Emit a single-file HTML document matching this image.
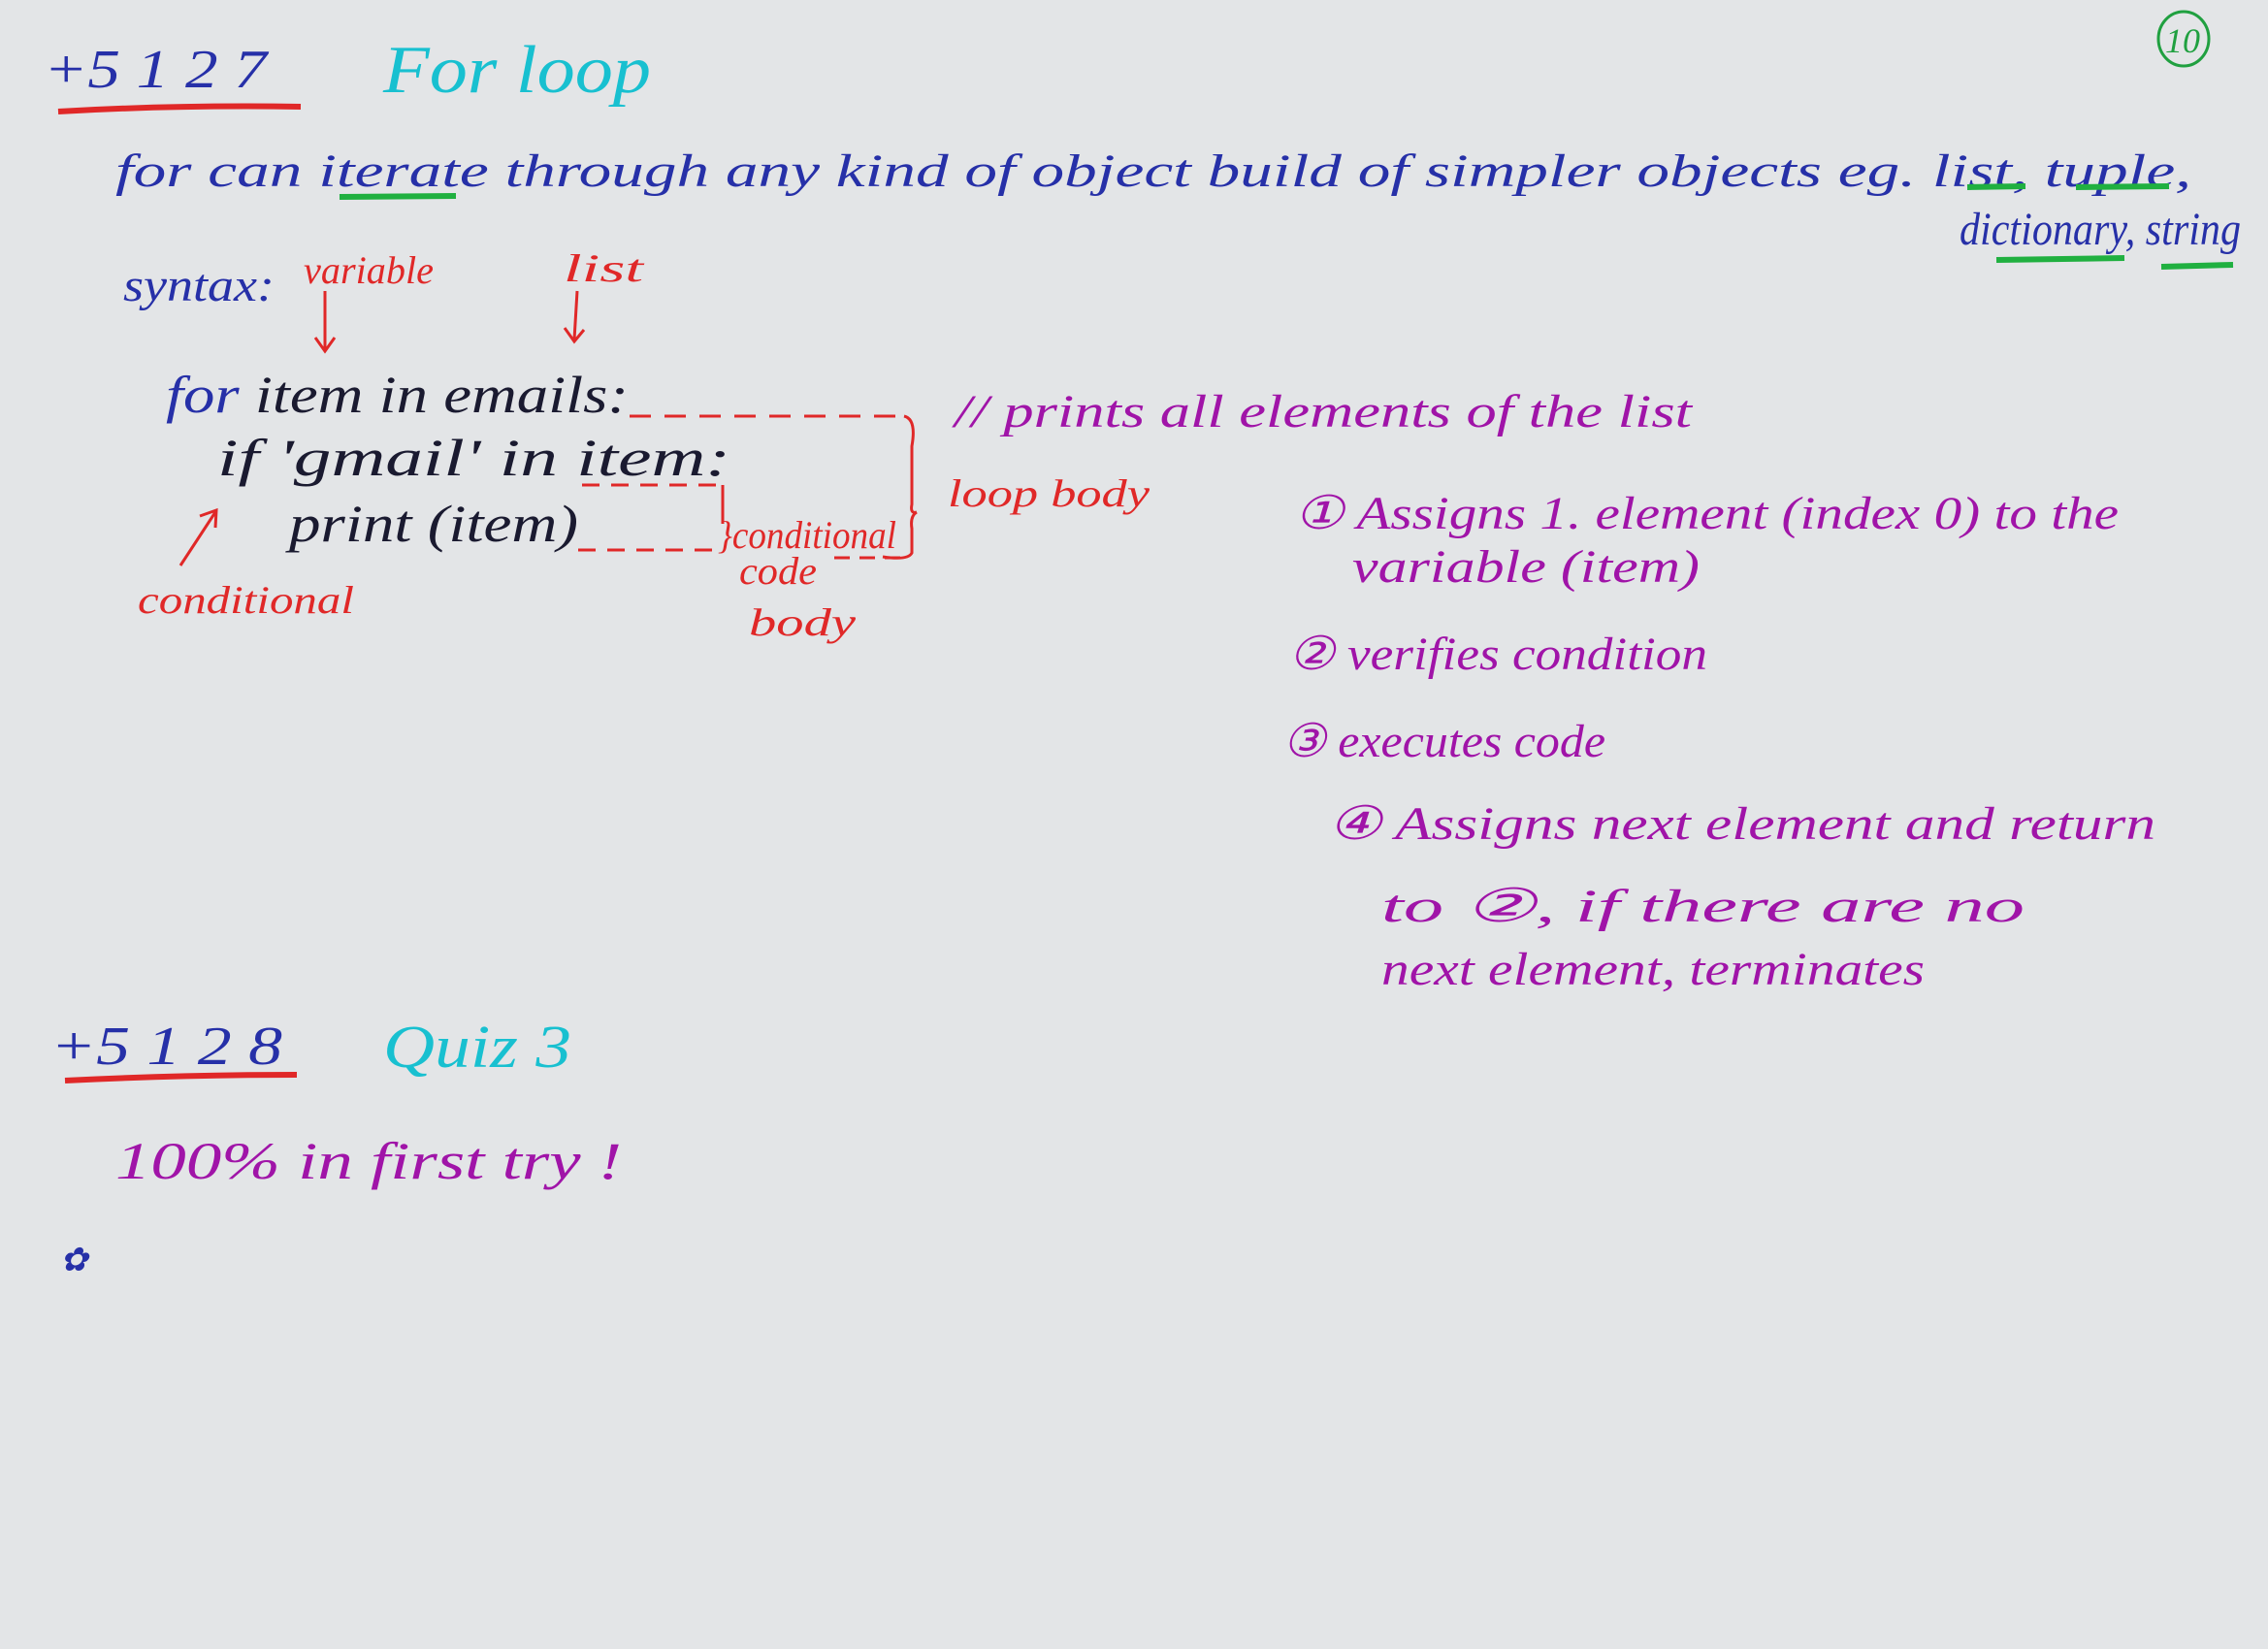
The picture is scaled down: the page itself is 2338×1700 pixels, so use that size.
<!DOCTYPE html>
<html><head><meta charset="utf-8"><style>
html,body{margin:0;padding:0;background:#e3e5e7;}
svg{display:block}
text{font-family:"Liberation Serif",serif;font-style:italic}
</style></head><body>
<svg width="2338" height="1700" viewBox="0 0 2338 1700" xmlns="http://www.w3.org/2000/svg">
<rect width="2338" height="1700" fill="#e3e5e7"/>
<g font-size="56">
<text x="45" y="90" fill="#2630a8" textLength="230" lengthAdjust="spacingAndGlyphs">+5 1 2 7</text>
<text x="395" y="95" fill="#18c0d0" font-size="70" textLength="276" lengthAdjust="spacingAndGlyphs">For loop</text>
</g>
<path d="M60 115 Q180 108 310 110" stroke="#e02828" stroke-width="6" fill="none"/>
<ellipse cx="2251" cy="40" rx="26" ry="28" stroke="#20a040" stroke-width="3" fill="none"/>
<text x="2232" y="54" fill="#20a040" font-size="36">10</text>
<g fill="#2630a8" font-size="48">
<text x="119" y="192" textLength="2140" lengthAdjust="spacingAndGlyphs">for can iterate through any kind of object build of simpler objects eg. list, tuple,</text>
<text x="2020" y="252" textLength="290" lengthAdjust="spacingAndGlyphs">dictionary, string</text>
<text x="127" y="310" textLength="156" lengthAdjust="spacingAndGlyphs">syntax:</text>
<text x="62" y="1310" font-size="34">✿</text>
</g>
<g stroke="#20b040" stroke-width="6" fill="none">
<path d="M350 203 L470 202"/><path d="M2028 193 L2088 192"/><path d="M2140 193 L2236 192"/>
<path d="M2058 268 L2190 266"/><path d="M2228 275 L2302 273"/>
</g>
<g fill="#e02828" font-size="40">
<text x="313" y="292" textLength="134" lengthAdjust="spacingAndGlyphs">variable</text>
<text x="581" y="290" textLength="82" lengthAdjust="spacingAndGlyphs">list</text>
<text x="142" y="632" textLength="223" lengthAdjust="spacingAndGlyphs">conditional</text>
<text x="740" y="565" textLength="184" lengthAdjust="spacingAndGlyphs">}conditional</text>
<text x="762" y="602" textLength="80" lengthAdjust="spacingAndGlyphs">code</text>
<text x="772" y="655" textLength="110" lengthAdjust="spacingAndGlyphs">body</text>
<text x="977" y="522" textLength="208" lengthAdjust="spacingAndGlyphs">loop body</text>
</g>
<g stroke="#e02828" stroke-width="3" fill="none">
<path d="M335 300 L335 360 M325 348 L335 362 L345 348"/>
<path d="M595 300 L592 350 M582 338 L592 352 L602 340"/>
<path d="M186 583 L222 528 M206 532 L223 526 L222 544"/>
<path d="M649 429 L932 429" stroke-dasharray="22 14"/>
<path d="M932 429 Q945 432 940 460 L940 520 Q938 530 945 528 M945 528 Q938 532 940 545 L940 570 Q936 578 910 574"/>
<path d="M600 500 L745 500" stroke-dasharray="18 12"/>
<path d="M745 500 L745 540"/>
<path d="M596 567 L740 567" stroke-dasharray="18 12"/>
<path d="M860 575 L930 575" stroke-dasharray="16 10"/>
</g>
<g fill="#1a1a30" font-size="54">
<text x="171" y="425" textLength="477" lengthAdjust="spacingAndGlyphs"><tspan fill="#2630a8">for</tspan> item in emails:</text>
<text x="224" y="490" textLength="529" lengthAdjust="spacingAndGlyphs">if  'gmail'  in  item:</text>
<text x="298" y="558" textLength="298" lengthAdjust="spacingAndGlyphs">print (item)</text>
</g>
<g fill="#a014a8" font-size="48">
<text x="984" y="440" textLength="760" lengthAdjust="spacingAndGlyphs">// prints all elements of the list</text>
<text x="1334" y="545" textLength="850" lengthAdjust="spacingAndGlyphs">① Assigns 1. element (index 0) to the</text>
<text x="1394" y="600" textLength="358" lengthAdjust="spacingAndGlyphs">variable (item)</text>
<text x="1328" y="690" textLength="432" lengthAdjust="spacingAndGlyphs">② verifies condition</text>
<text x="1322" y="780" textLength="333" lengthAdjust="spacingAndGlyphs">③ executes code</text>
<text x="1369" y="865" textLength="853" lengthAdjust="spacingAndGlyphs">④ Assigns next element and return</text>
<text x="1424" y="950" textLength="663" lengthAdjust="spacingAndGlyphs">to ②, if there are no</text>
<text x="1424" y="1015" textLength="560" lengthAdjust="spacingAndGlyphs">next element, terminates</text>
<text x="119" y="1215" font-size="54" textLength="522" lengthAdjust="spacingAndGlyphs">100% in first try !</text>
</g>
<text x="52" y="1097" fill="#2630a8" font-size="56" textLength="239" lengthAdjust="spacingAndGlyphs">+5 1 2 8</text>
<text x="395" y="1100" fill="#18c0d0" font-size="62" textLength="194" lengthAdjust="spacingAndGlyphs">Quiz 3</text>
<path d="M67 1114 Q190 1108 306 1108" stroke="#e02828" stroke-width="6" fill="none"/>
</svg>
</body></html>
